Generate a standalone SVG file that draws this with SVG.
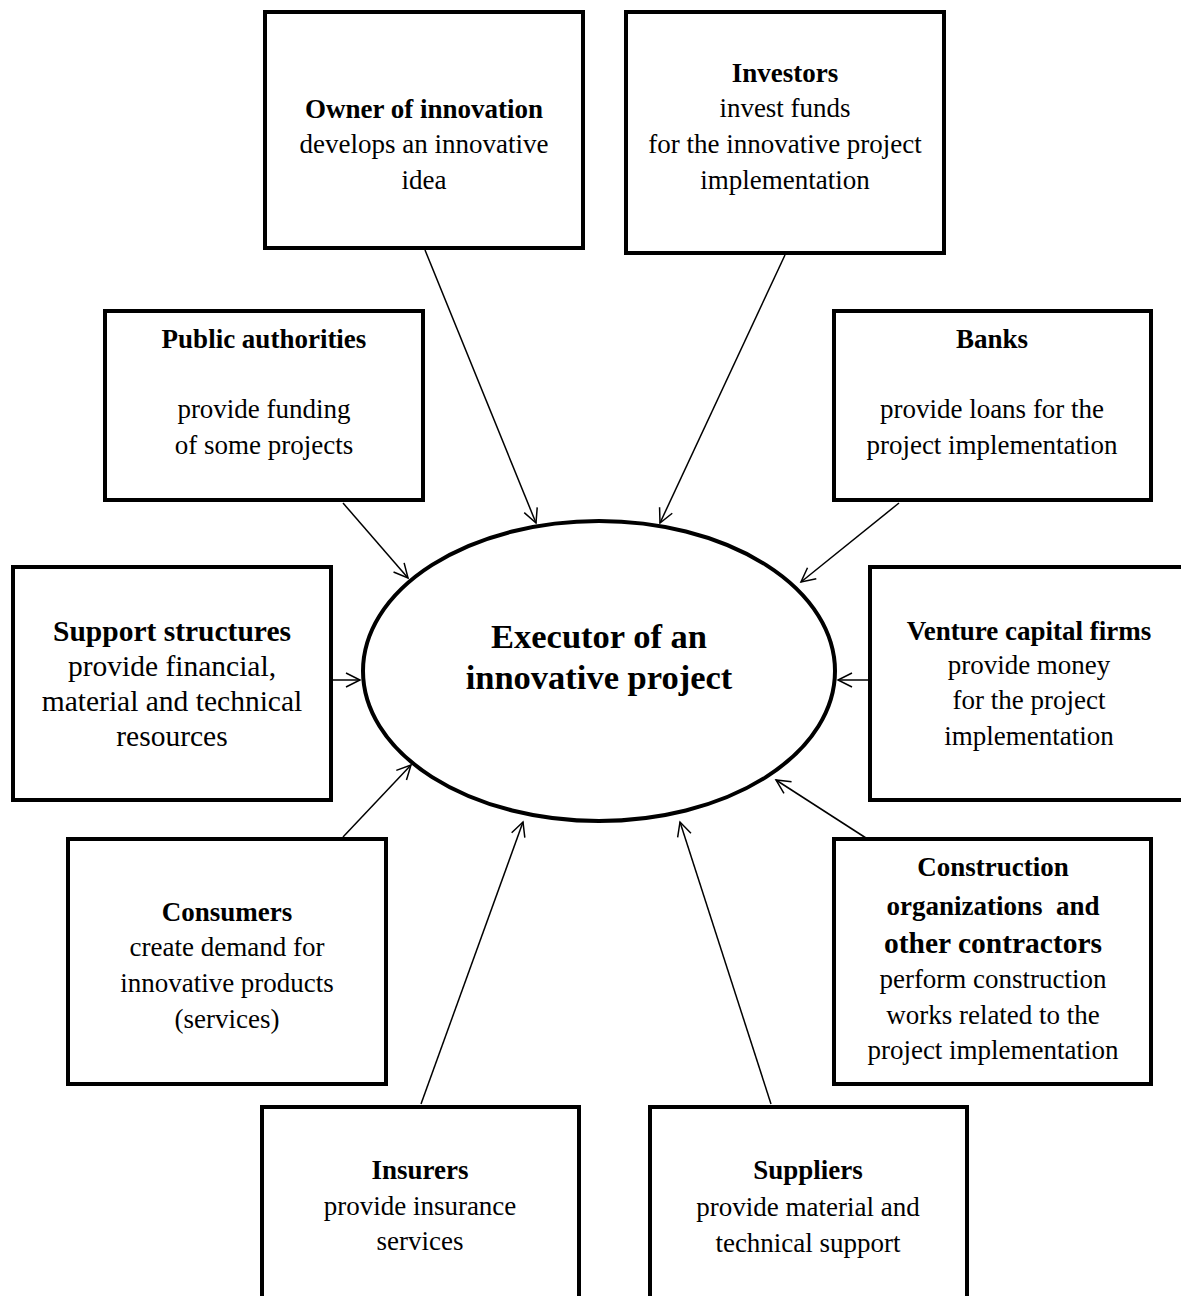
<svg xmlns="http://www.w3.org/2000/svg" width="1181" height="1296" viewBox="0 0 1181 1296">
<style>
.box{fill:#fff;stroke:#000;stroke-width:4}
.t{font-family:"Liberation Serif","Times New Roman",serif;font-size:27px;text-anchor:middle;fill:#000}
.b{font-weight:bold}
.c{stroke:#000;stroke-width:1.5;fill:none}
</style>
<defs>
<marker id="ah" markerUnits="userSpaceOnUse" markerWidth="18" markerHeight="18" refX="15" refY="8" orient="auto">
<path d="M1,1 L15,8 L1,15" fill="none" stroke="#000" stroke-width="1.5"/>
</marker>
</defs>
<rect x="0" y="0" width="1181" height="1296" fill="#fff"/>
<g id="connectors">
<line class="c" x1="425" y1="250" x2="536" y2="523" marker-end="url(#ah)"/>
<line class="c" x1="785" y1="255" x2="660" y2="523" marker-end="url(#ah)"/>
<line class="c" x1="343" y1="503" x2="408" y2="578" marker-end="url(#ah)"/>
<line class="c" x1="899" y1="503" x2="801" y2="582" marker-end="url(#ah)"/>
<line class="c" x1="333" y1="680" x2="360" y2="680" marker-end="url(#ah)"/>
<line class="c" x1="869" y1="680" x2="838" y2="680" marker-end="url(#ah)"/>
<line class="c" x1="343" y1="837" x2="411" y2="765" marker-end="url(#ah)"/>
<line class="c" x1="866" y1="838" x2="776" y2="780" marker-end="url(#ah)"/>
<line class="c" x1="421" y1="1104" x2="523" y2="822" marker-end="url(#ah)"/>
<line class="c" x1="771" y1="1104" x2="680" y2="822" marker-end="url(#ah)"/>
</g>
<g id="executor">
<ellipse cx="599" cy="671" rx="236" ry="150" fill="#fff" stroke="#000" stroke-width="4"/>
<text class="t b" x="599" y="648" style="font-size:34.5px">Executor of an</text>
<text class="t b" x="599" y="689" style="font-size:34.5px">innovative project</text>
</g>
<g id="owner">
<rect class="box" x="265" y="12" width="318" height="236"/>
<text class="t b" x="424" y="118">Owner of innovation</text>
<text class="t" x="424" y="153">develops an innovative</text>
<text class="t" x="424" y="189">idea</text>
</g>
<g id="investors">
<rect class="box" x="626" y="12" width="318" height="241"/>
<text class="t b" x="785" y="82">Investors</text>
<text class="t" x="785" y="117">invest funds</text>
<text class="t" x="785" y="153">for the innovative project</text>
<text class="t" x="785" y="189">implementation</text>
</g>
<g id="public">
<rect class="box" x="105" y="311" width="318" height="189"/>
<text class="t b" x="264" y="348">Public authorities</text>
<text class="t" x="264" y="418">provide funding</text>
<text class="t" x="264" y="454">of some projects</text>
</g>
<g id="banks">
<rect class="box" x="834" y="311" width="317" height="189"/>
<text class="t b" x="992" y="348">Banks</text>
<text class="t" x="992" y="418">provide loans for the</text>
<text class="t" x="992" y="454">project implementation</text>
</g>
<g id="support">
<rect class="box" x="13" y="567" width="318" height="233"/>
<text class="t b" x="172" y="641" style="font-size:29.5px">Support structures</text>
<text class="t" x="172" y="676" style="font-size:29.5px">provide financial,</text>
<text class="t" x="172" y="711" style="font-size:29.5px">material and technical</text>
<text class="t" x="172" y="746" style="font-size:29.5px">resources</text>
</g>
<g id="venture">
<rect class="box" x="870" y="567" width="320" height="233"/>
<text class="t b" x="1029" y="640">Venture capital firms</text>
<text class="t" x="1029" y="674">provide money</text>
<text class="t" x="1029" y="709">for the project</text>
<text class="t" x="1029" y="745">implementation</text>
</g>
<g id="consumers">
<rect class="box" x="68" y="839" width="318" height="245"/>
<text class="t b" x="227" y="921">Consumers</text>
<text class="t" x="227" y="956">create demand for</text>
<text class="t" x="227" y="992">innovative products</text>
<text class="t" x="227" y="1028">(services)</text>
</g>
<g id="construction">
<rect class="box" x="834" y="839" width="317" height="245"/>
<text class="t b" x="993" y="876">Construction</text>
<text class="t b" x="993" y="915" xml:space="preserve">organizations  and</text>
<text class="t b" x="993" y="953" style="font-size:29.5px">other contractors</text>
<text class="t" x="993" y="988">perform construction</text>
<text class="t" x="993" y="1024">works related to the</text>
<text class="t" x="993" y="1059">project implementation</text>
</g>
<g id="insurers">
<rect class="box" x="262" y="1107" width="317" height="200"/>
<text class="t b" x="420" y="1179">Insurers</text>
<text class="t" x="420" y="1215">provide insurance</text>
<text class="t" x="420" y="1250">services</text>
</g>
<g id="suppliers">
<rect class="box" x="650" y="1107" width="317" height="200"/>
<text class="t b" x="808" y="1179">Suppliers</text>
<text class="t" x="808" y="1216">provide material and</text>
<text class="t" x="808" y="1252">technical support</text>
</g>
</svg>
